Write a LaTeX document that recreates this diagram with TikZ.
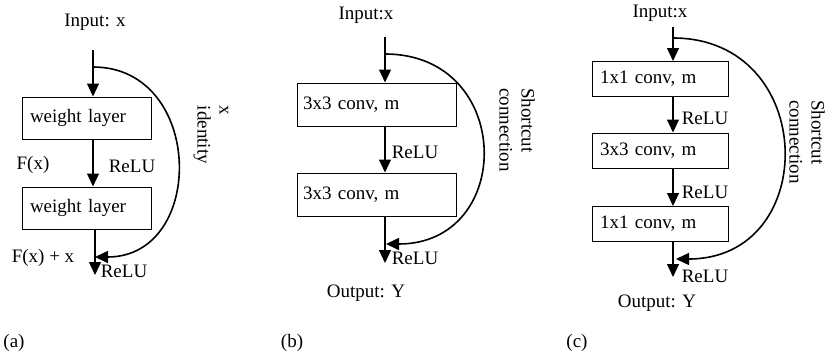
\documentclass[tikz,border=0pt]{standalone}
\usepackage{fontspec}
\setmainfont{Liberation Serif}
\usetikzlibrary{arrows.meta}

\begin{document}
\begin{tikzpicture}[x=1pt,y=-1pt,
	every node/.style={font=\fontsize{19}{22}\selectfont},
	layer/.style={draw, rectangle, line width=1pt, align=left, inner xsep=8pt, minimum height=42pt},
	flow/.style={line width=1.2pt, -{Triangle[length=13pt,width=12pt]}},
	skip/.style={line width=1.6pt, -{Triangle[length=13pt,width=12pt]}}]
	
	\useasboundingbox (0,0) rectangle (826,362);
	
	% (a)
	\node (a-in) at (95,22) {Input: x};
	\coordinate (a-top) at (93,50);
	\coordinate (a-out) at (95,275);
	\node[layer, text width=113pt] (a-l1) at (86.5,118) {weight layer};
	\node[layer, text width=113pt] (a-l2) at (86.5,208) {weight layer};
	\draw[flow] (a-top) -- (a-top |- a-l1.north);
	\draw[flow] (a-top |- a-l1.south) -- (a-top |- a-l2.north);
	\draw[flow] (a-out |- a-l2.south) -- (a-out);
	\coordinate (a-s) at (93,67);
	\coordinate (a-e) at (95,257);
	\draw[skip] (a-s) to[out=0, in=0, looseness=1.5] (a-e);
	
	\node (a-fx) at (33,165) {F(x)};
	\node (a-r1) at (132,166) {ReLU};
	\node (a-sum) at (43,258) {F(x) + x};
	\node (a-r2) at (124,271) {ReLU};
	\node[rotate=-90, align=left] (a-id) at (211,135) {x\\identity};
	\node (a-cap) at (14,343) {(a)};
	
	% (b)
	\node (b-in) at (366,15) {Input:x};
	\coordinate (b-top) at (385,37);
	\coordinate (b-out) at (385,263);
	\node[layer, inner xsep=6pt, text width=147pt, minimum height=43pt] (b-l1) at (376.5,104.5) {3x3 conv, m};
	\node[layer, inner xsep=6pt, text width=147pt, minimum height=43pt] (b-l2) at (376.5,194.5) {3x3 conv, m};
	\draw[flow] (b-top) -- (b-top |- b-l1.north);
	\draw[flow] (b-top |- b-l1.south) -- (b-top |- b-l2.north);
	\draw[flow] (b-out |- b-l2.south) -- (b-out);
	\coordinate (b-s) at (385,54);
	\coordinate (b-e) at (386,244);
	\draw[skip] (b-s) to[out=0, in=0, looseness=1.74] (b-e);
	
	\node (b-r1) at (415,152) {ReLU};
	\node (b-r2) at (415,258) {ReLU};
	\node (b-y) at (366,293) {Output: Y};
	\node[rotate=-90, align=left] (b-sc) at (517,130) {Shortcut\\connection};
	\node (b-cap) at (292,343) {(b)};
	
	% (c)
	\node (c-in) at (660,13) {Input:x};
	\coordinate (c-top) at (673,27);
	\coordinate (c-out) at (673,277);
	\node[layer, text width=120pt, minimum height=35pt] (c-l1) at (660,79) {1x1 conv, m};
	\node[layer, text width=120pt, minimum height=35pt] (c-l2) at (660,150.5) {3x3 conv, m};
	\node[layer, text width=120pt, minimum height=35pt] (c-l3) at (660,224) {1x1 conv, m};
	\draw[flow] (c-top) -- (c-top |- c-l1.north);
	\draw[flow] (c-top |- c-l1.south) -- (c-top |- c-l2.north);
	\draw[flow] (c-top |- c-l2.south) -- (c-top |- c-l3.north);
	\draw[flow] (c-out |- c-l3.south) -- (c-out);
	\coordinate (c-s) at (673,38);
	\coordinate (c-e) at (676,259);
	\draw[skip] (c-s) to[out=0, in=0, looseness=1.68] (c-e);
	
	\node (c-r1) at (705,118) {ReLU};
	\node (c-r2) at (705,192) {ReLU};
	\node (c-r3) at (705,276) {ReLU};
	\node (c-y) at (657,303) {Output: Y};
	\node[rotate=-90, align=left] (c-sc) at (807,142) {Shortcut\\connection};
	\node (c-cap) at (577,343) {(c)};
	
\end{tikzpicture}
\end{document}
